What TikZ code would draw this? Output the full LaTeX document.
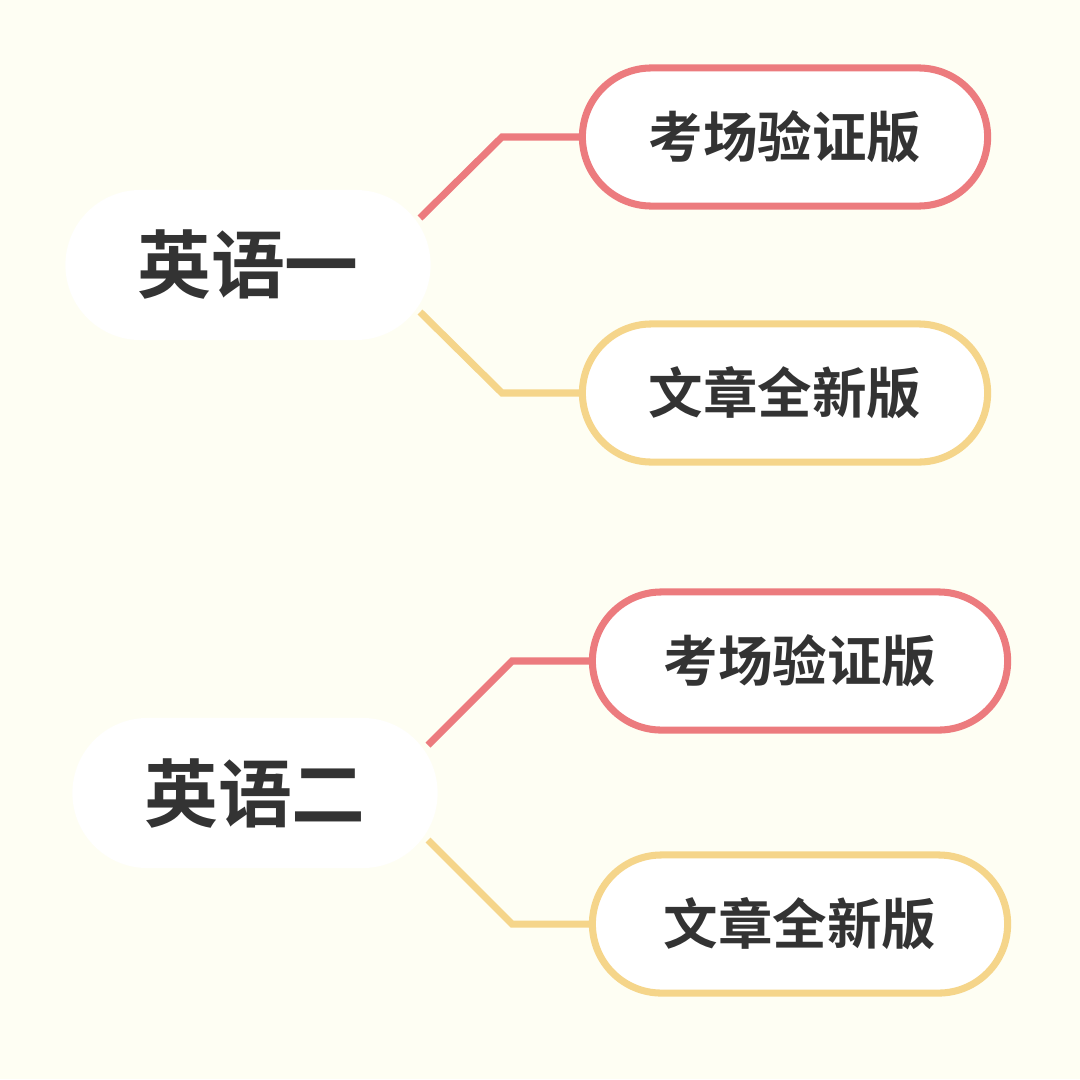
\documentclass[tikz,border=0pt]{standalone}
\usepackage{fontspec}
\newfontfamily\cjk{Noto Sans CJK SC}[BoldFont={Noto Sans CJK SC Bold}]
\usetikzlibrary{positioning}
\definecolor{paper}{HTML}{FEFEF3}
\definecolor{redline}{HTML}{EC7B7E}
\definecolor{yellowline}{HTML}{F5D58A}
\definecolor{ink}{HTML}{333333}
\tikzset{
  root/.style={fill=white, rounded corners=0.75cm, minimum width=3.65cm, minimum height=1.5cm,
    font=\cjk\bfseries\fontsize{21}{24}\selectfont, text=ink},
  leaf/.style={fill=white, draw, line width=2pt, rounded corners=0.69cm, minimum width=4.05cm,
    minimum height=1.38cm, font=\cjk\bfseries\fontsize{15.5}{18}\selectfont, text=ink},
  branch/.style={line width=2pt}
}
\begin{document}
\begin{tikzpicture}[x=0.01cm,y=-0.01cm]
\fill[paper] (0,0) rectangle (1080,1079);
\useasboundingbox (0,0) rectangle (1080,1079);

% first group
\node[root] (eng1) at (248,265) {英语一};
\node[leaf, draw=redline] (exam1) at (785,137) {考场验证版};
\node[leaf, draw=yellowline] (new1) at (785,393) {文章全新版};
\coordinate (a1) at (420,218);
\coordinate (b1) at (420,312);
\draw[branch, redline] (a1) -- (502,137) -- (exam1.west);
\draw[branch, yellowline] (b1) -- (502,393) -- (new1.west);

% second group
\node[root] (eng2) at (255,793) {英语二};
\node[leaf, draw=redline, minimum width=4.15cm] (exam2) at (800,661) {考场验证版};
\node[leaf, draw=yellowline, minimum width=4.15cm] (new2) at (800,924) {文章全新版};
\coordinate (a2) at (428,745);
\coordinate (b2) at (428,840);
\draw[branch, redline] (a2) -- (512,661) -- (exam2.west);
\draw[branch, yellowline] (b2) -- (512,924) -- (new2.west);
\end{tikzpicture}
\end{document}
